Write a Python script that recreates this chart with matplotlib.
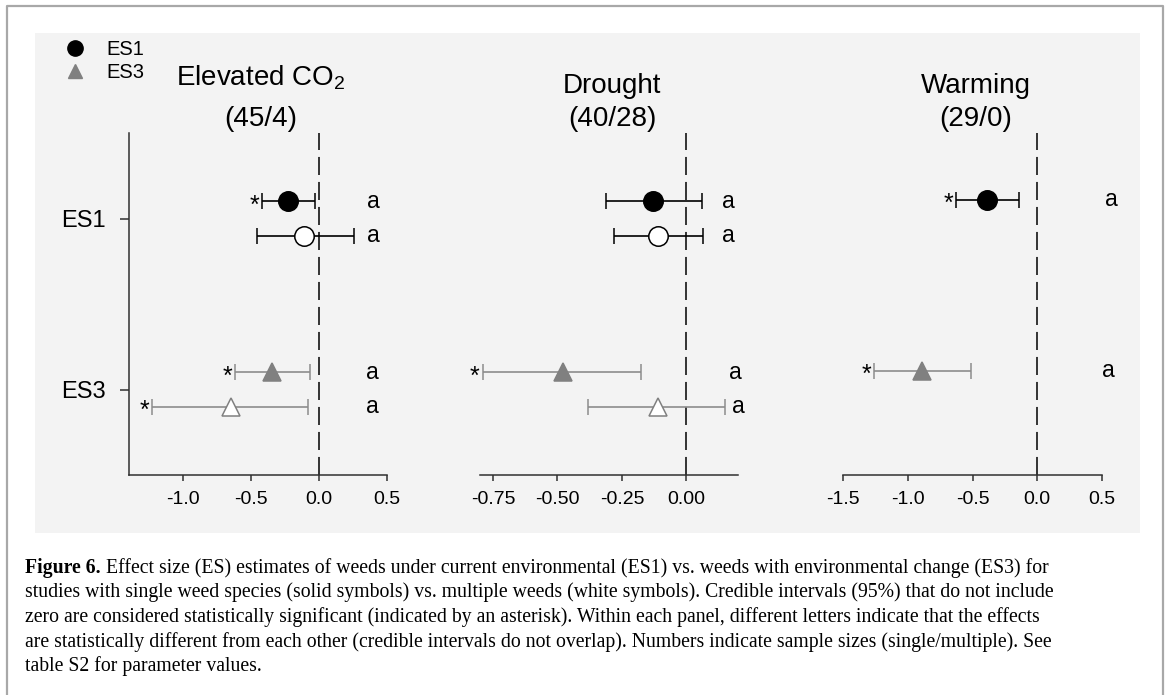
import matplotlib
matplotlib.use("Agg")
import matplotlib.pyplot as plt
from matplotlib.lines import Line2D
from matplotlib.patches import Rectangle

# ---------------- data ----------------
groups = ["ES1", "ES3"]

co2_single_mean = [-0.23, -0.35]
co2_single_lo = [-0.42, -0.62]
co2_single_hi = [-0.03, -0.07]
co2_multi_mean = [-0.11, -0.65]
co2_multi_lo = [-0.46, -1.23]
co2_multi_hi = [0.26, -0.08]

drought_single_mean = [-0.128, -0.48]
drought_single_lo = [-0.31, -0.79]
drought_single_hi = [0.062, -0.175]
drought_multi_mean = [-0.11, -0.11]
drought_multi_lo = [-0.28, -0.38]
drought_multi_hi = [0.066, 0.15]

warming_single_mean = [-0.39, -0.89]
warming_single_lo = [-0.63, -1.26]
warming_single_hi = [-0.14, -0.51]

co2_letters = ["a", "a", "a", "a"]
drought_letters = ["a", "a", "a", "a"]
warming_letters = ["a", "a"]

titles = ["Elevated CO$_2$", "Drought", "Warming"]
sample_sizes = ["(45/4)", "(40/28)", "(29/0)"]

co2_ticks = [-1.0, -0.5, 0.0, 0.5]
drought_ticks = [-0.75, -0.50, -0.25, 0.00]
warming_ticks = [-1.5, -1.0, -0.5, 0.0, 0.5]

caption_bold = "Figure 6."
caption_lines = [
    " Effect size (ES) estimates of weeds under current environmental (ES1) vs. weeds with environmental change (ES3) for",
    "studies with single weed species (solid symbols) vs. multiple weeds (white symbols). Credible intervals (95%) that do not include",
    "zero are considered statistically significant (indicated by an asterisk). Within each panel, different letters indicate that the effects",
    "are statistically different from each other (credible intervals do not overlap). Numbers indicate sample sizes (single/multiple). See",
    "table S2 for parameter values.",
]

# ---------------- style ----------------
plt.rcParams["font.family"] = ["Liberation Sans", "DejaVu Sans"]
plt.rcParams["mathtext.fontset"] = "custom"
plt.rcParams["mathtext.rm"] = "Liberation Sans"
plt.rcParams["mathtext.it"] = "Liberation Sans:italic"
plt.rcParams["mathtext.bf"] = "Liberation Sans:bold"
plt.rcParams["axes.unicode_minus"] = False
plt.rcParams["lines.scale_dashes"] = False

W, H = 1167, 695
fig = plt.figure(figsize=(W / 100, H / 100), dpi=100)
fig.patch.set_facecolor("white")


def fx(px):
    return px / W


def fy(py):
    return 1 - py / H


# light chart background and outer frame
fig.patches.append(Rectangle((fx(35), fy(533)), fx(1140) - fx(35), fy(33) - fy(533),
                             transform=fig.transFigure, facecolor="#f3f3f3",
                             edgecolor="none", zorder=-10))
fig.lines.append(Line2D([fx(7), fx(7), fx(1163), fx(1163)], [fy(700), fy(6), fy(6), fy(700)],
                        transform=fig.transFigure, color="#a8a8a8", lw=1.6))

BLACK = "#000000"
GREY = "#808080"
GREY_LINE = "#8c8c8c"
SPINE = "#303030"

axes_px = [(129, 387), (480, 738), (843, 1102)]
top_px, bot_px = 133, 475

panels = [
    dict(single=(co2_single_mean, co2_single_lo, co2_single_hi),
         multi=(co2_multi_mean, co2_multi_lo, co2_multi_hi),
         letters=co2_letters, xlim=(-1.4, 0.5), ticks=co2_ticks, fmt="%.1f",
         letter_x=[0.40, 0.40, 0.39, 0.39], off=0.1),
    dict(single=(drought_single_mean, drought_single_lo, drought_single_hi),
         multi=(drought_multi_mean, drought_multi_lo, drought_multi_hi),
         letters=drought_letters, xlim=(-0.80, 0.20), ticks=drought_ticks, fmt="%.2f",
         letter_x=[0.163, 0.163, 0.19, 0.20], off=0.1),
    dict(single=(warming_single_mean, warming_single_lo, warming_single_hi),
         multi=None,
         letters=warming_letters, xlim=(-1.5, 0.5), ticks=warming_ticks, fmt="%.1f",
         letter_x=[0.57, 0.55], off=0.11),
]

title_baselines = [86, 93, 93]

for i, (p, (x0, x1)) in enumerate(zip(panels, axes_px)):
    ax = fig.add_axes([fx(x0), fy(bot_px), fx(x1) - fx(x0), fy(top_px) - fy(bot_px)])
    ax.set_facecolor("none")
    ax.set_xlim(*p["xlim"])
    ax.set_ylim(2.5, 0.5)
    for s in ["top", "right"]:
        ax.spines[s].set_visible(False)
    ax.spines["bottom"].set_color(SPINE)
    ax.spines["bottom"].set_linewidth(1.1)
    if i == 0:
        ax.spines["left"].set_color(SPINE)
        ax.spines["left"].set_linewidth(1.1)
        ax.set_yticks([1, 2])
        ax.set_yticklabels(groups, fontsize=17)
        ax.tick_params(axis="y", length=6.5, width=1.1, color=SPINE, pad=10)
    else:
        ax.spines["left"].set_visible(False)
        ax.set_yticks([])
    ax.set_xticks(p["ticks"])
    ax.set_xticklabels([p["fmt"] % t for t in p["ticks"]], fontsize=14)
    ax.tick_params(axis="x", length=4.3, width=1.1, color=SPINE, pad=7)

    ax.axvline(0, color="black", lw=1.1, dashes=(13, 5), zorder=1)

    series = [("single", -p["off"]), ("multi", p["off"])]
    k = 0
    for g in range(len(groups)):
        for name, off in series:
            if p[name] is None:
                continue
            mean, lo, hi = (arr[g] for arr in p[name])
            y = g + 1 + off
            col = BLACK if g == 0 else GREY
            lcol = BLACK if g == 0 else GREY_LINE
            marker = "o" if g == 0 else "^"
            ms = 14 if g == 0 else 13
            face = col if name == "single" else "white"
            ax.errorbar([mean], [y], xerr=[[mean - lo], [hi - mean]], fmt=marker,
                        ms=ms, mfc=face, mec=col, mew=1.1, ecolor=lcol,
                        elinewidth=1.2, capsize=5.8, capthick=1.2, zorder=3,
                        clip_on=False)
            if hi < 0 or lo > 0:
                ax.annotate("*", xy=(lo, y), xytext=(-2, -3), textcoords="offset points",
                            ha="right", va="center", fontsize=18, color="black")
            ax.text(p["letter_x"][k], y, p["letters"][k], ha="center", va="center",
                    fontsize=16.5, clip_on=False)
            k += 1

    cx = (x0 + x1) / 2 + 3
    fig.text(fx(cx), fy(title_baselines[i]), titles[i], ha="center", va="baseline", fontsize=20)
    fig.text(fx(cx), fy(126), sample_sizes[i], ha="center", va="baseline", fontsize=20)

# legend
handles = [Line2D([], [], ls="none", marker="o", ms=11, color="black"),
           Line2D([], [], ls="none", marker="^", ms=10, color=GREY)]
fig.legend(handles, groups, loc="upper left", bbox_to_anchor=(fx(63), fy(40)),
           frameon=False, fontsize=14.5, handlelength=1.2, handletextpad=0.95,
           labelspacing=0.2, borderpad=0, borderaxespad=0)

# caption
serif = ["Liberation Serif", "DejaVu Serif"]
cap_fs = 14.2
baselines = [573, 597.5, 622, 646.5, 671]
tb = fig.text(fx(25), fy(baselines[0]), caption_bold, fontsize=cap_fs, fontweight="bold",
              family=serif, va="baseline", ha="left")
renderer = fig.canvas.get_renderer()
bw = tb.get_window_extent(renderer).width
fig.text(fx(25 + bw), fy(baselines[0]), caption_lines[0], fontsize=cap_fs, family=serif,
         va="baseline", ha="left")
for line, b in zip(caption_lines[1:], baselines[1:]):
    fig.text(fx(25), fy(b), line, fontsize=cap_fs, family=serif, va="baseline", ha="left")

fig.savefig("out.png", dpi=100)
